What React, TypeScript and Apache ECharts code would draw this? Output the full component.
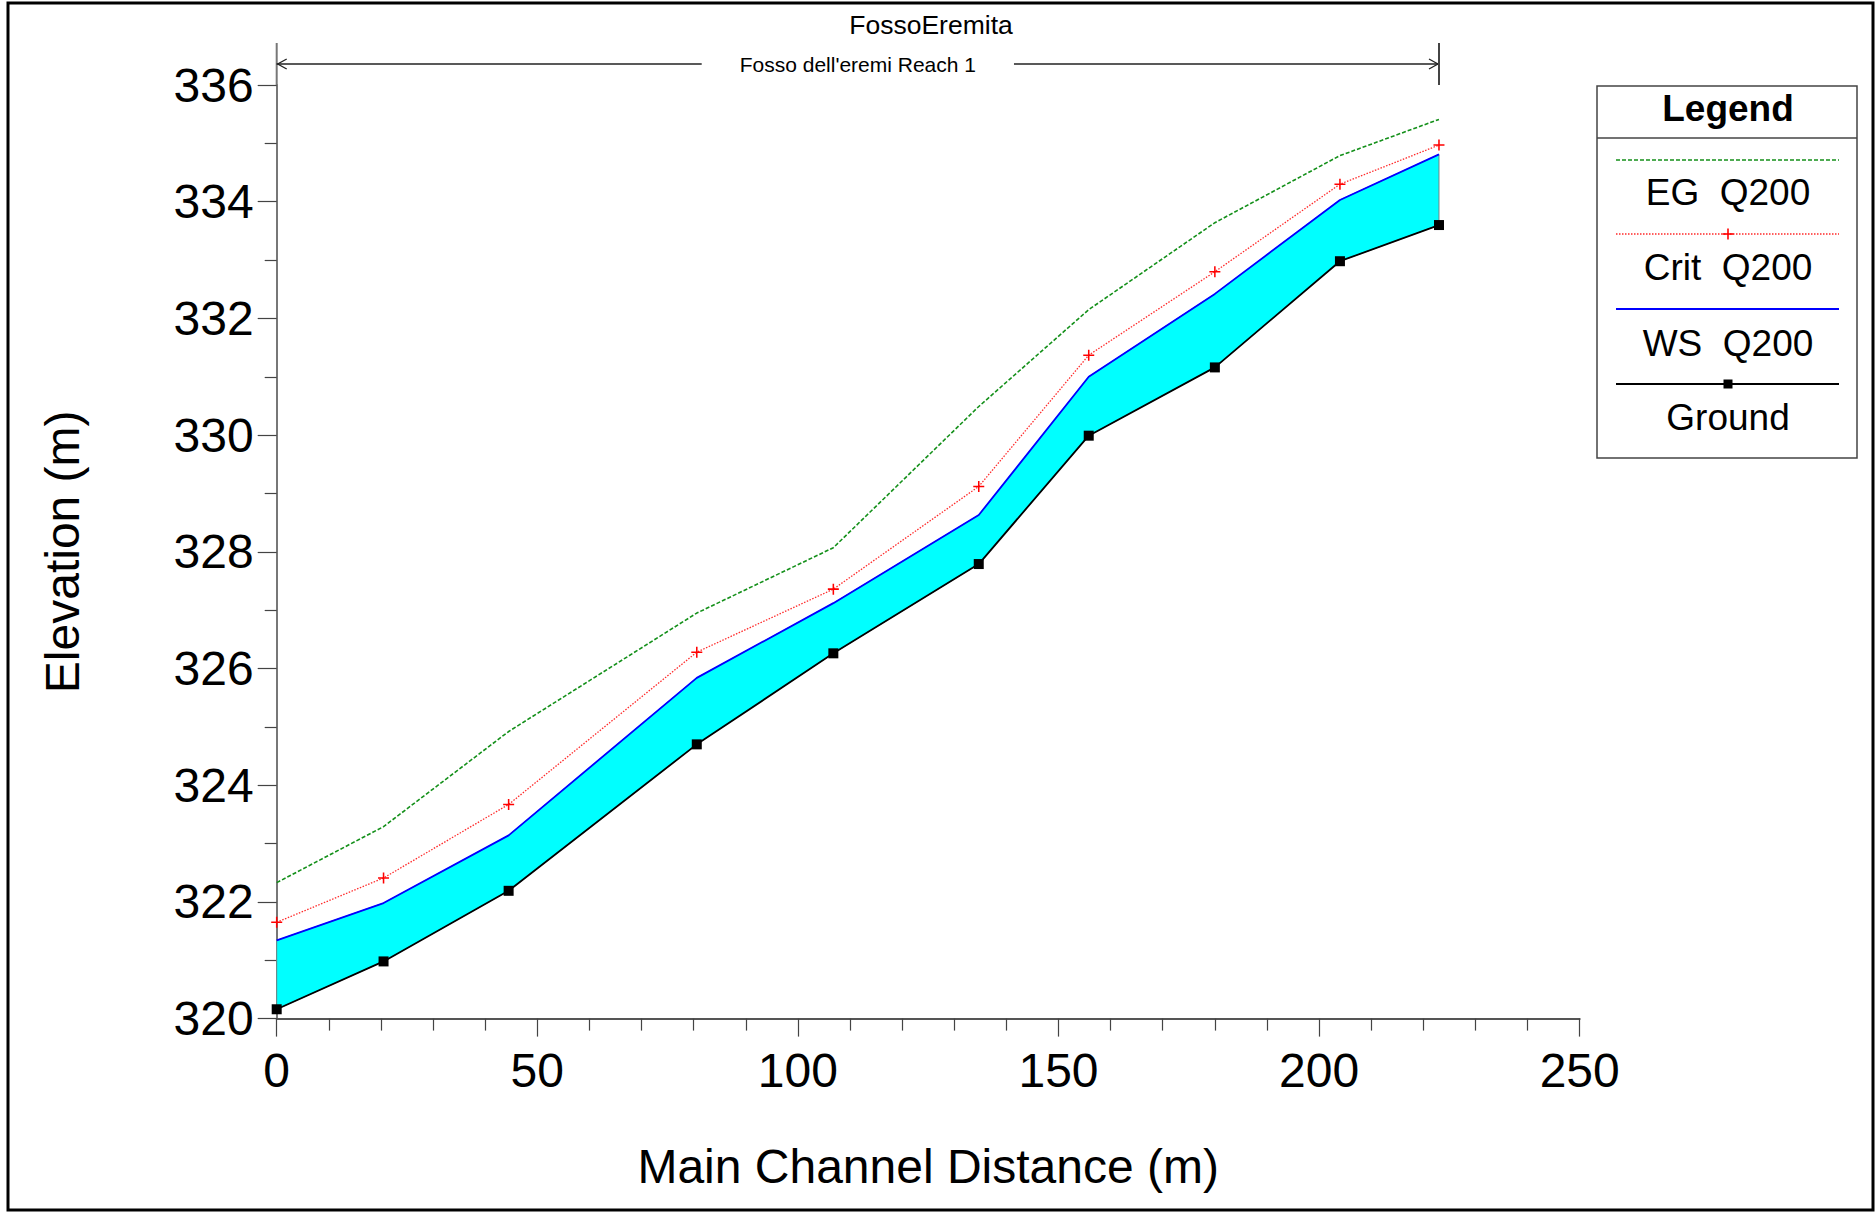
import React, { useEffect, useRef } from 'react';
import * as echarts from 'echarts';

// Main channel distance of each cross-section (m)
const distance = [0, 20.5, 44.5, 80.6, 106.8, 134.7, 155.8, 180.0, 204.0, 223.0];
// Elevations (m)
const ground = [320.16, 320.98, 322.19, 324.7, 326.26, 327.79, 329.99, 331.16, 332.98, 333.6];
const wsQ200 = [321.34, 321.98, 323.14, 325.84, 327.12, 328.63, 331.0, 332.42, 334.03, 334.81];
const critQ200 = [321.65, 322.41, 323.67, 326.28, 327.36, 329.12, 331.37, 332.8, 334.3, 334.97];
const egQ200 = [322.33, 323.29, 324.92, 326.95, 328.07, 330.49, 332.15, 333.64, 334.79, 335.41];

const seriesNames = ['EG  Q200', 'Crit  Q200', 'WS  Q200', 'Ground'];
const riverName = 'FossoEremita';
const reachName = "Fosso dell'eremi Reach 1";
const xTitle = 'Main Channel Distance (m)';
const yTitle = 'Elevation (m)';
const reachLevel = 336.36;
const axisTop = 336.72;

const FONT = "'Liberation Sans', Arial, Helvetica, sans-serif";
const C_EG = '#14901a';
const C_CRIT = '#ff2a2a';
const C_WS = '#0000ff';
const C_GROUND = '#000000';
const C_FILL = '#00ffff';
const PLUS = 'path://M4.3,0 H5.7 V4.3 H10 V5.7 H5.7 V10 H4.3 V5.7 H0 V4.3 H4.3 Z';

const pairs = (ys: number[]) => distance.map((d, i) => [d, ys[i]]);

export default function App() {
  const ref = useRef<HTMLDivElement>(null);
  useEffect(() => {
    if (!ref.current) return;
    const chart = echarts.init(ref.current, null, { renderer: 'svg' });
    const option: any = {
      animation: false,
      backgroundColor: '#ffffff',
      textStyle: { fontFamily: FONT },
      grid: { left: 276.7, right: 296.3, top: 85, bottom: 194.4, containLabel: false },
      xAxis: {
        type: 'value',
        min: 0,
        max: 250,
        interval: 50,
        name: xTitle,
        nameLocation: 'middle',
        nameGap: 124,
        nameTextStyle: { fontSize: 48, color: '#000', fontFamily: FONT },
        axisLine: { show: true, onZero: false, lineStyle: { color: '#555', width: 2 } },
        axisTick: { show: true, inside: false, length: 18, lineStyle: { color: '#444', width: 1.2 } },
        minorTick: { show: true, splitNumber: 5, length: 12, lineStyle: { color: '#444', width: 1.2 } },
        splitLine: { show: false },
        minorSplitLine: { show: false },
        axisLabel: { fontSize: 48, color: '#000', margin: 28, fontFamily: FONT },
      },
      yAxis: {
        type: 'value',
        min: 320,
        max: 336,
        interval: 2,
        name: yTitle,
        nameLocation: 'middle',
        nameGap: 190,
        nameRotate: 90,
        nameTextStyle: { fontSize: 48, color: '#000', fontFamily: FONT },
        axisLine: { show: true, onZero: false, lineStyle: { color: '#777', width: 2 } },
        axisTick: { show: true, inside: false, length: 19, lineStyle: { color: '#444', width: 1.2 } },
        minorTick: { show: true, splitNumber: 2, length: 12, lineStyle: { color: '#444', width: 1.2 } },
        splitLine: { show: false },
        minorSplitLine: { show: false },
        axisLabel: { fontSize: 48, color: '#000', margin: 23, fontFamily: FONT },
      },
      series: [
        {
          type: 'custom',
          name: 'fill',
          silent: true,
          clip: false,
          z: 1,
          data: distance.map((d, i) => [d, ground[i], wsQ200[i]]),
          encode: { x: 0, y: 1 },
          renderItem: (params: any, api: any) => {
            if (params.dataIndex !== 0) return null;
            const top = distance.map((d, i) => api.coord([d, wsQ200[i]]));
            const bottom = distance.map((d, i) => api.coord([d, ground[i]])).reverse();
            return {
              type: 'polygon',
              shape: { points: top.concat(bottom) },
              style: { fill: C_FILL, stroke: '#6a8a8a', lineWidth: 1 },
            };
          },
        },
        {
          type: 'line',
          name: seriesNames[0],
          data: pairs(egQ200),
          symbol: 'none',
          z: 3,
          lineStyle: { color: C_EG, width: 1.6, type: [4, 2] },
        },
        {
          type: 'line',
          name: seriesNames[1],
          data: pairs(critQ200),
          symbol: PLUS,
          symbolSize: 11,
          showSymbol: true,
          z: 4,
          itemStyle: { color: '#ff0000' },
          lineStyle: { color: C_CRIT, width: 1.3, type: [1.5, 1.5] },
        },
        {
          type: 'line',
          name: seriesNames[2],
          data: pairs(wsQ200),
          symbol: 'none',
          z: 5,
          lineStyle: { color: C_WS, width: 1.8 },
        },
        {
          type: 'line',
          name: seriesNames[3],
          data: pairs(ground),
          symbol: 'rect',
          symbolSize: 10,
          showSymbol: true,
          z: 6,
          itemStyle: { color: C_GROUND },
          lineStyle: { color: C_GROUND, width: 1.8 },
        },
      ],
    };
    chart.setOption(option);

    const px = (x: number, y: number) => chart.convertToPixel({ gridIndex: 0 }, [x, y]) as number[];
    const x0 = distance[0];
    const x1 = distance[distance.length - 1];
    const pAxisTop = px(x0, axisTop);
    const pAxis336 = px(x0, 336);
    const pL = px(x0, reachLevel);
    const pR = px(x1, reachLevel);
    const pRTop = px(x1, axisTop);
    const midX = (pL[0] + pR[0]) / 2;
    const ay = pL[1];

    // Legend geometry
    const LX = 1597, LY = 86, LW = 260, LH = 372;
    const lineX1 = 1616, lineX2 = 1839, cx = 1728;
    const rows = [
      { lineY: 160, textY: 192 },
      { lineY: 234, textY: 267 },
      { lineY: 309, textY: 343 },
      { lineY: 384, textY: 417 },
    ];

    const legendEls: any[] = [
      { type: 'rect', shape: { x: LX, y: LY, width: LW, height: LH }, style: { fill: '#fff', stroke: '#444', lineWidth: 1.5 } },
      { type: 'line', shape: { x1: LX, y1: 138, x2: LX + LW, y2: 138 }, style: { stroke: '#444', lineWidth: 1.5 } },
      { type: 'text', x: cx, y: 108, style: { text: 'Legend', fontSize: 37, fontWeight: 'bold', fill: '#000', fontFamily: FONT, align: 'center', verticalAlign: 'middle' } },
      { type: 'line', shape: { x1: lineX1, y1: rows[0].lineY, x2: lineX2, y2: rows[0].lineY }, style: { stroke: C_EG, lineWidth: 1.6, lineDash: [4, 2] } },
      { type: 'line', shape: { x1: lineX1, y1: rows[1].lineY, x2: lineX2, y2: rows[1].lineY }, style: { stroke: C_CRIT, lineWidth: 1.3, lineDash: [1.5, 1.5] } },
      { type: 'rect', shape: { x: cx - 5.5, y: rows[1].lineY - 0.8, width: 11, height: 1.6 }, style: { fill: '#ff0000' } },
      { type: 'rect', shape: { x: cx - 0.8, y: rows[1].lineY - 5.5, width: 1.6, height: 11 }, style: { fill: '#ff0000' } },
      { type: 'line', shape: { x1: lineX1, y1: rows[2].lineY, x2: lineX2, y2: rows[2].lineY }, style: { stroke: C_WS, lineWidth: 1.8 } },
      { type: 'line', shape: { x1: lineX1, y1: rows[3].lineY, x2: lineX2, y2: rows[3].lineY }, style: { stroke: C_GROUND, lineWidth: 1.8 } },
      { type: 'rect', shape: { x: cx - 4.5, y: rows[3].lineY - 4.5, width: 9, height: 9 }, style: { fill: '#000' } },
    ];
    seriesNames.forEach((n, i) => {
      legendEls.push({
        type: 'text',
        x: cx,
        y: rows[i].textY,
        style: { text: n, fontSize: 37, fill: '#000', fontFamily: FONT, align: 'center', verticalAlign: 'middle' },
      });
    });

    const graphic: any[] = [
      { type: 'rect', shape: { x: 8, y: 3, width: 1865, height: 1207 }, style: { fill: 'none', stroke: '#000', lineWidth: 3 }, z: 100 },
      // axis extension up to reach marker
      { type: 'line', shape: { x1: pAxisTop[0], y1: pAxisTop[1], x2: pAxis336[0], y2: pAxis336[1] }, style: { stroke: '#777', lineWidth: 2 } },
      // reach arrow line
      { type: 'line', shape: { x1: pL[0], y1: ay, x2: pR[0], y2: ay }, style: { stroke: '#222', lineWidth: 1.3 } },
      { type: 'polyline', shape: { points: [[pL[0] + 10, ay - 5], [pL[0] + 1, ay], [pL[0] + 10, ay + 5]] }, style: { stroke: '#222', lineWidth: 1.3, fill: 'none' } },
      { type: 'polyline', shape: { points: [[pR[0] - 10, ay - 5], [pR[0] - 1, ay], [pR[0] - 10, ay + 5]] }, style: { stroke: '#222', lineWidth: 1.3, fill: 'none' } },
      { type: 'line', shape: { x1: pR[0], y1: pRTop[1], x2: pR[0], y2: ay + (ay - pRTop[1]) }, style: { stroke: '#444', lineWidth: 2 } },
      { type: 'text', x: midX, y: ay + 1, z: 10, style: { text: reachName, fontSize: 21, fill: '#000', fontFamily: FONT, align: 'center', verticalAlign: 'middle', backgroundColor: '#fff', padding: [2, 38] } },
      { type: 'text', x: 931, y: 25, style: { text: riverName, fontSize: 26.5, fill: '#000', fontFamily: FONT, align: 'center', verticalAlign: 'middle' } },
      ...legendEls,
    ];
    chart.setOption({ graphic });

    return () => chart.dispose();
  }, []);
  return <div ref={ref} style={{ position: 'absolute', left: 0, top: 0, width: 1876, height: 1213, background: '#fff' }} />;
}
